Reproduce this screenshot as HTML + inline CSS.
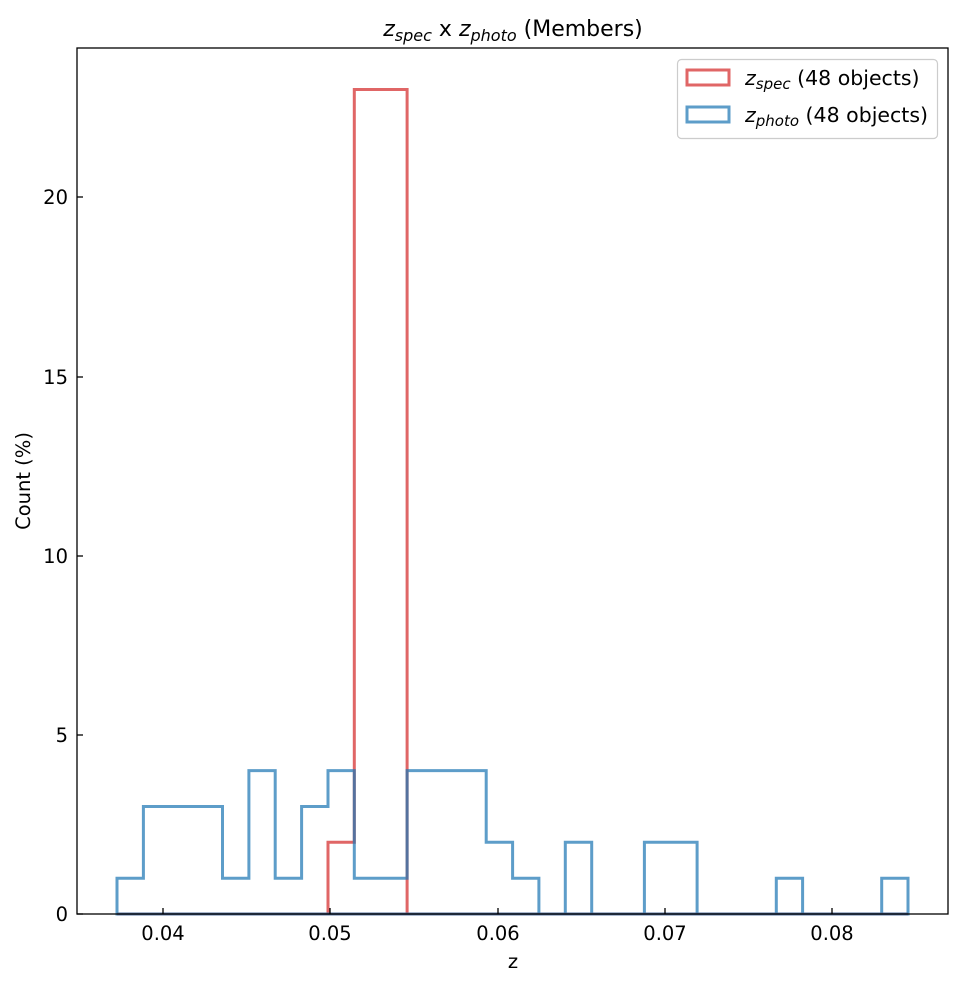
<!DOCTYPE html>
<html><head><style>
body{margin:0;background:#fff;}
svg text{font-family:"DejaVu Sans","Liberation Sans",sans-serif;fill:#000;}
</style></head><body>
<svg width="963" height="985" xmlns="http://www.w3.org/2000/svg">
<rect width="963" height="985" fill="#fff"/>
<path d="M117,914 H328 V842.3 H354.3 V89.5 H407.1 V914 H908 Z" fill="none" stroke="#e06666" stroke-width="3"/>
<path d="M117,914 V878.2 H143.4 V806.5 H222.5 V878.2 H248.9 V770.6 H275.2 V878.2 H301.6 V806.5 H328 V770.6 H354.3 V878.2 H407.1 V770.6 H486.2 V842.3 H512.6 V878.2 H538.9 V914 H565.3 V842.3 H591.7 V914 H644.4 V842.3 H697.1 V914 H776.3 V878.2 H802.6 V914 H881.7 V878.2 H908 V914 Z" fill="none" stroke="rgba(31,119,180,0.72)" stroke-width="3"/>
<rect x="77" y="48" width="871" height="866" fill="none" stroke="#000" stroke-width="1.3"/>
<g stroke="#000" stroke-width="1.3">
<line x1="163" y1="914" x2="163" y2="908"/><line x1="330" y1="914" x2="330" y2="908"/><line x1="498" y1="914" x2="498" y2="908"/><line x1="665" y1="914" x2="665" y2="908"/><line x1="832" y1="914" x2="832" y2="908"/>
<line x1="77" y1="914" x2="83" y2="914"/><line x1="77" y1="735" x2="83" y2="735"/><line x1="77" y1="556" x2="83" y2="556"/><line x1="77" y1="377" x2="83" y2="377"/><line x1="77" y1="197" x2="83" y2="197"/>
</g>
<g font-size="19.5" text-anchor="middle">
<text x="163" y="940">0.04</text><text x="330" y="940">0.05</text><text x="498" y="940">0.06</text><text x="665" y="940">0.07</text><text x="832" y="940">0.08</text>
<text x="513" y="968">z</text>
</g>
<g font-size="19.5" text-anchor="end">
<text x="68" y="921">0</text><text x="68" y="742">5</text><text x="68" y="563">10</text><text x="68" y="384">15</text><text x="68" y="204">20</text>
</g>
<text x="30" y="481" font-size="19.5" text-anchor="middle" transform="rotate(-90 30 481)">Count (%)</text>
<text x="513" y="36" font-size="22" text-anchor="middle"><tspan font-style="italic">z</tspan><tspan font-style="italic" font-size="16" dy="5">spec</tspan><tspan dy="-5"> x </tspan><tspan font-style="italic">z</tspan><tspan font-style="italic" font-size="16" dy="5">photo</tspan><tspan dy="-5"> (Members)</tspan></text>
<rect x="677.5" y="59.5" width="260" height="79" rx="4" fill="#fff" stroke="#ccc" stroke-width="1.2"/>
<rect x="687" y="70" width="42" height="15" fill="none" stroke="#e06666" stroke-width="3"/>
<rect x="687" y="107" width="42" height="15" fill="none" stroke="rgba(31,119,180,0.72)" stroke-width="3"/>
<text x="745" y="85" font-size="20.5"><tspan font-style="italic">z</tspan><tspan font-style="italic" font-size="15" dy="4">spec</tspan><tspan dy="-4"> (48 objects)</tspan></text>
<text x="745" y="122" font-size="20.5"><tspan font-style="italic">z</tspan><tspan font-style="italic" font-size="15" dy="4">photo</tspan><tspan dy="-4"> (48 objects)</tspan></text>
</svg>
</body></html>
